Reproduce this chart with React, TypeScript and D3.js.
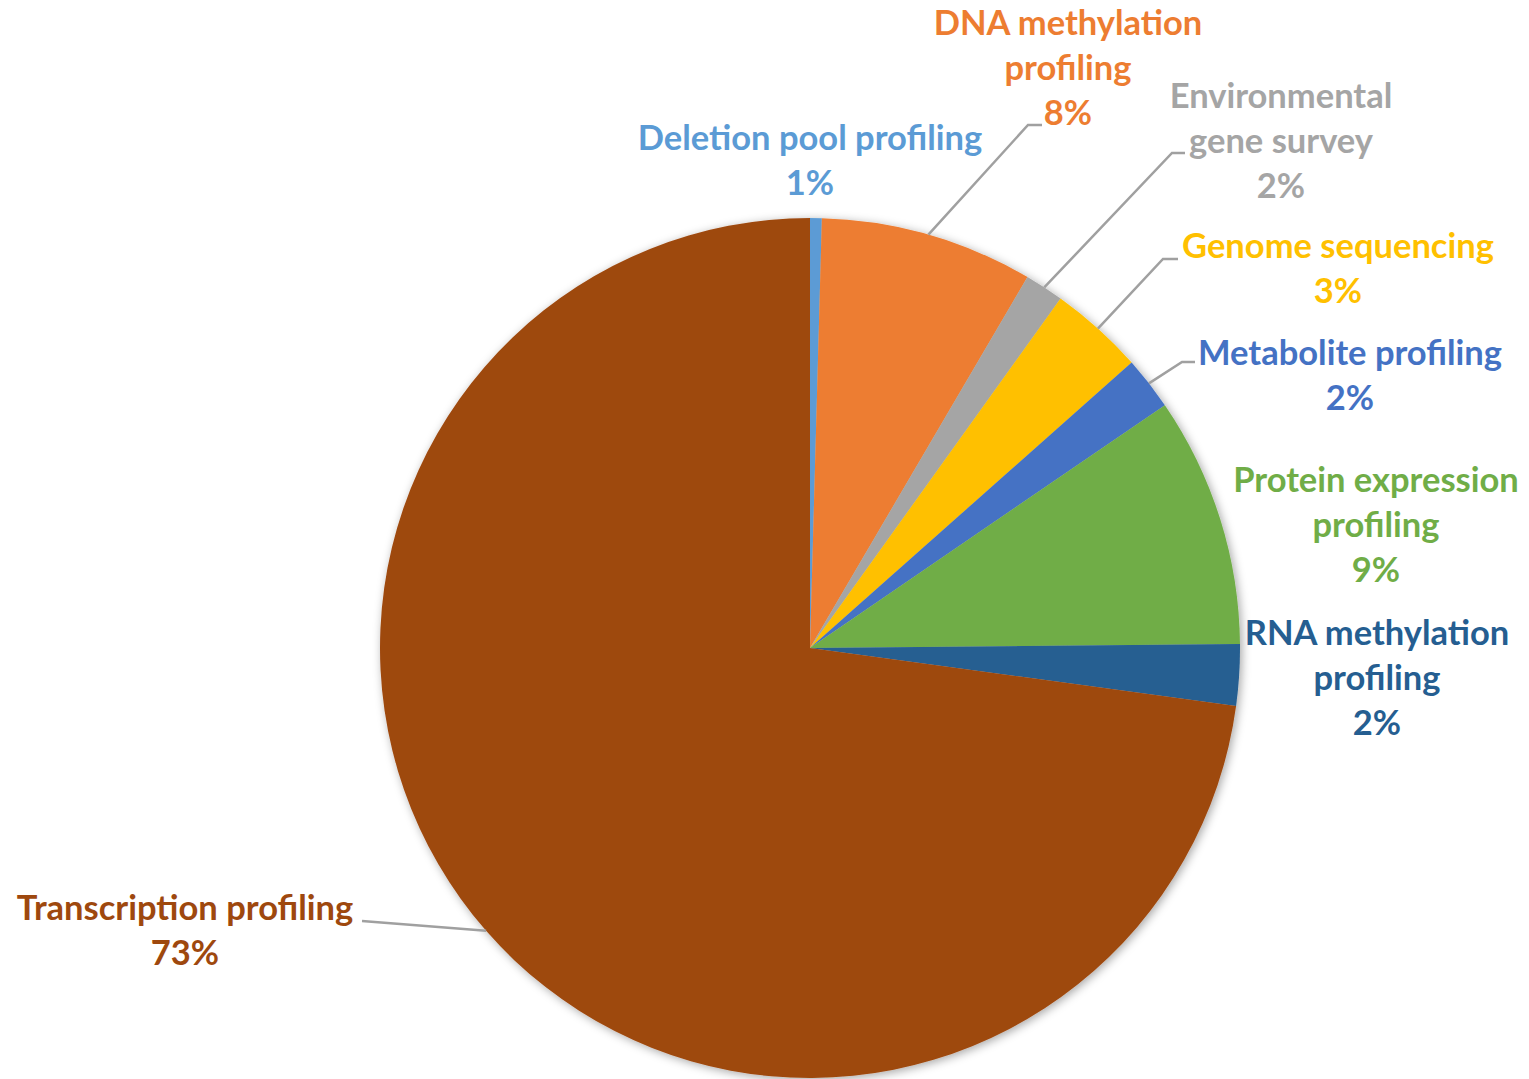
import React from "react";
import * as d3 from "d3";

const categories = [
  "Deletion pool profiling",
  "DNA methylation profiling",
  "Environmental gene survey",
  "Genome sequencing",
  "Metabolite profiling",
  "Protein expression profiling",
  "RNA methylation profiling",
  "Transcription profiling",
];
const values = [0.44, 8.0, 1.46, 3.55, 2.0, 9.4, 2.3, 72.85];
const percentLabels = ["1%", "8%", "2%", "3%", "2%", "9%", "2%", "73%"];
const colors = ["#5B9BD5", "#ED7D31", "#A5A5A5", "#FFC000", "#4472C4", "#70AD47", "#255E91", "#9E480E"];

// label text lines (category name wrapped as in the reference)
const labelLines = [
  ["Deletion pool profiling"],
  ["DNA methylation", "profiling"],
  ["Environmental", "gene survey"],
  ["Genome sequencing"],
  ["Metabolite profiling"],
  ["Protein expression", "profiling"],
  ["RNA methylation", "profiling"],
  ["Transcription profiling"],
];

// layout: label center x, first baseline y, leader elbow / end (null = no leader)
const labelLayout = [
  { x: 810, y: 150, leader: null },
  { x: 1068, y: 35, leader: [[1028, 125], [1042, 125]] },
  { x: 1281, y: 108, leader: [[1172, 153], [1185, 153]] },
  { x: 1338, y: 258, leader: [[1163, 259], [1178, 259]] },
  { x: 1350, y: 365, leader: [[1182, 362], [1195, 362]] },
  { x: 1376, y: 492, leader: null },
  { x: 1377, y: 645, leader: null },
  { x: 185, y: 920, leader: [[362, 921], [362, 921]] },
];

const W = 1529;
const H = 1079;
const cx = 810;
const cy = 648;
const R = 430;
const lineH = 45;

export default function App() {
  const pie = d3.pie<number>().sort(null).value((d) => d)(values);
  const arc = d3.arc<d3.PieArcDatum<number>>().innerRadius(0).outerRadius(R);

  return (
    <svg
      width={W}
      height={H}
      style={{ position: "absolute", left: 0, top: 0, background: "#fff" }}
    >
      <defs>
        <filter id="sh" x="-10%" y="-10%" width="120%" height="120%">
          <feDropShadow dx="2" dy="2" stdDeviation="5" floodColor="#000" floodOpacity="0.35" />
        </filter>
      </defs>
      <g transform={`translate(${cx},${cy})`} filter="url(#sh)">
        {pie.map((p, i) => (
          <path key={i} d={arc(p) || ""} fill={colors[i]} />
        ))}
      </g>
      {pie.map((p, i) => {
        const L = labelLayout[i];
        if (!L.leader) return null;
        const a = (p.startAngle + p.endAngle) / 2;
        const sx = cx + R * Math.sin(a);
        const sy = cy - R * Math.cos(a);
        const pts: [number, number][] = [[sx, sy], ...(L.leader as [number, number][])];
        const line = d3.line()(pts) || "";
        return <path key={"l" + i} d={line} fill="none" stroke="#A0A0A0" strokeWidth={2.5} />;
      })}
      {categories.map((c, i) => {
        const L = labelLayout[i];
        const lines = [...labelLines[i], percentLabels[i]];
        return (
          <text
            key={"t" + i}
            x={L.x}
            y={L.y}
            textAnchor="middle"
            fill={colors[i]}
            fontFamily="Lato, 'Open Sans', sans-serif"
            fontWeight={700}
            fontSize={34.5}
          >
            {lines.map((t, j) => (
              <tspan key={j} x={L.x} y={L.y + j * lineH}>
                {t}
              </tspan>
            ))}
          </text>
        );
      })}
    </svg>
  );
}
